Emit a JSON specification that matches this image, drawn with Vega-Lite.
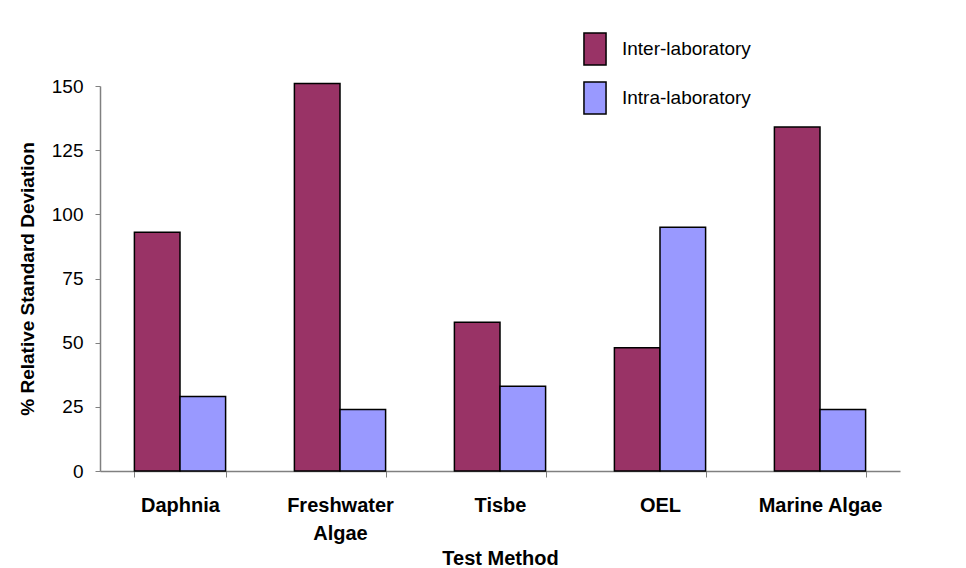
{
  "$schema": "https://vega.github.io/schema/vega-lite/v6.json",
  "width": 800,
  "height": 385,
  "autosize": {"type": "none"},
  "padding": {"left": 100, "top": 86, "right": 66, "bottom": 97},
  "background": "white",
  "config": {
    "view": {"stroke": null},
    "font": "Liberation Sans"
  },
  "data": {
    "values": [
      {"method": "Daphnia", "type": "Inter-laboratory", "rsd": 93},
      {"method": "Daphnia", "type": "Intra-laboratory", "rsd": 29},
      {"method": "Freshwater Algae", "type": "Inter-laboratory", "rsd": 151},
      {"method": "Freshwater Algae", "type": "Intra-laboratory", "rsd": 24},
      {"method": "Tisbe", "type": "Inter-laboratory", "rsd": 58},
      {"method": "Tisbe", "type": "Intra-laboratory", "rsd": 33},
      {"method": "OEL", "type": "Inter-laboratory", "rsd": 48},
      {"method": "OEL", "type": "Intra-laboratory", "rsd": 95},
      {"method": "Marine Algae", "type": "Inter-laboratory", "rsd": 134},
      {"method": "Marine Algae", "type": "Intra-laboratory", "rsd": 24}
    ]
  },
  "mark": {"type": "bar", "stroke": "black", "strokeWidth": 1.5},
  "encoding": {
    "x": {
      "field": "method",
      "type": "nominal",
      "sort": ["Daphnia", "Freshwater Algae", "Tisbe", "OEL", "Marine Algae"],
      "scale": {"paddingInner": 0.43, "paddingOuter": 0.215},
      "axis": {
        "title": "Test Method",
        "labelAngle": 0,
        "labelExpr": "datum.label == 'Freshwater Algae' ? ['Freshwater', 'Algae'] : datum.label",
        "labelLineHeight": 28,
        "labelFont": "Liberation Sans",
        "labelFontSize": 20,
        "labelFontWeight": "bold",
        "labelColor": "black",
        "labelPadding": 18,
        "tickBand": "extent",
        "tickSize": 6,
        "tickColor": "#808080",
        "domainColor": "#808080",
        "domainWidth": 1.5,
        "titleFont": "Liberation Sans",
        "titleFontSize": 20,
        "titleFontWeight": "bold",
        "titleColor": "black",
        "titlePadding": 5
      }
    },
    "xOffset": {
      "field": "type",
      "type": "nominal",
      "sort": ["Inter-laboratory", "Intra-laboratory"],
      "scale": {"paddingInner": 0, "paddingOuter": 0}
    },
    "y": {
      "field": "rsd",
      "type": "quantitative",
      "scale": {"domain": [0, 150], "nice": false},
      "axis": {
        "title": "% Relative Standard Deviation",
        "values": [0, 25, 50, 75, 100, 125, 150],
        "grid": false,
        "tickSize": 5,
        "tickColor": "#808080",
        "domainColor": "#808080",
        "domainWidth": 1.5,
        "labelFont": "Liberation Sans",
        "labelFontSize": 19,
        "labelColor": "black",
        "labelPadding": 12,
        "titleFont": "Liberation Sans",
        "titleFontSize": 19,
        "titleFontWeight": "bold",
        "titleColor": "black",
        "titlePadding": 14
      }
    },
    "color": {
      "field": "type",
      "type": "nominal",
      "sort": ["Inter-laboratory", "Intra-laboratory"],
      "scale": {"domain": ["Inter-laboratory", "Intra-laboratory"], "range": ["#993366", "#9999FF"]},
      "legend": {
        "title": null,
        "orient": "none",
        "legendX": 478,
        "legendY": -54,
        "symbolType": "M-0.69,-1L0.69,-1L0.69,1L-0.69,1Z",
        "symbolSize": 1024,
        "symbolStrokeColor": "black",
        "symbolStrokeWidth": 1.5,
        "symbolOpacity": 1,
        "labelFont": "Liberation Sans",
        "labelFontSize": 19,
        "labelColor": "black",
        "labelOffset": 10,
        "rowPadding": 11,
        "padding": 0
      }
    }
  }
}
